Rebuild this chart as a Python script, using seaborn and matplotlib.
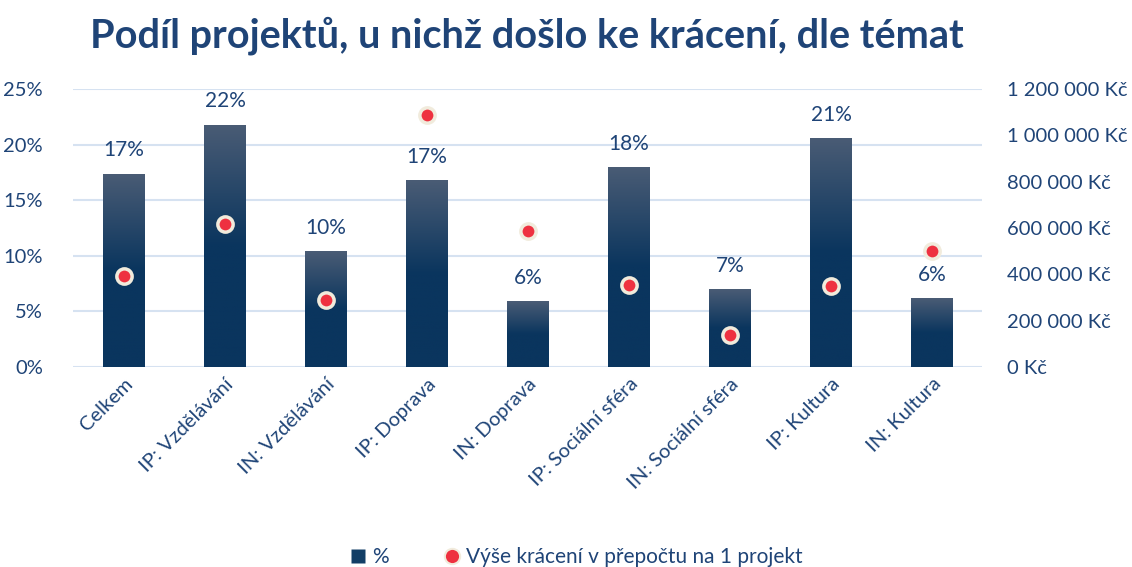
import numpy as np
import pandas as pd
import matplotlib
matplotlib.use("Agg")
import matplotlib.pyplot as plt
import seaborn as sns
from matplotlib.colors import LinearSegmentedColormap
from matplotlib.ticker import FuncFormatter, MultipleLocator
from matplotlib.lines import Line2D

categories = ["Celkem", "IP: Vzdělávání", "IN: Vzdělávání", "IP: Doprava", "IN: Doprava",
              "IP: Sociální sféra", "IN: Sociální sféra", "IP: Kultura", "IN: Kultura"]
share_pct = [17.4, 21.8, 10.4, 16.8, 5.9, 18.0, 7.0, 20.6, 6.2]
cut_czk = [393000, 617000, 289000, 1088000, 587000, 354000, 138000, 350000, 501000]

title = "Podíl projektů, u nichž došlo ke krácení, dle témat"
legend_bar = "%"
legend_dot = "Výše krácení v přepočtu na 1 projekt"

TXT = "#1F4477"
sns.set_theme(style="white")
plt.rcParams["font.family"] = ["Lato", "DejaVu Sans"]

df = pd.DataFrame({"cat": categories, "pct": share_pct, "czk": cut_czk})

fig = plt.figure(figsize=(11.32, 5.67), dpi=100)
ax = fig.add_axes([0.0649, 0.3527, 0.803, 0.4903])

sns.barplot(data=df, x="cat", y="pct", ax=ax, color="#0B3760", width=0.41, saturation=1)
ax.set_xlim(-0.5, len(categories) - 0.5)
ax.set_ylim(0, 25)

cmap = LinearSegmentedColormap.from_list("g", ["#0A355E", "#0A355E", "#4A5C75"])
grad = np.linspace(0, 1, 256).reshape(-1, 1)
for p in ax.patches:
    x0, y0 = p.get_x(), p.get_y()
    w, h = p.get_width(), p.get_height()
    im = ax.imshow(grad, cmap=cmap, aspect="auto", origin="lower",
                   extent=[x0, x0 + w, y0, y0 + h], zorder=2)
    im.set_clip_path(p)
    p.set_facecolor("none")
    p.set_edgecolor("none")
ax.set_xlim(-0.5, len(categories) - 0.5)
ax.set_ylim(0, 25)

for i, v in enumerate(share_pct):
    ax.text(i, v + 2.1, f"{round(v):.0f}%", ha="center", va="center",
            fontsize=15, color=TXT, zorder=5)

ax.yaxis.set_major_locator(MultipleLocator(5))
ax.yaxis.set_major_formatter(FuncFormatter(lambda v, _: f"{v:.0f}%"))
ax.grid(axis="y", color="#D6E2F1", linewidth=1.5, zorder=0)
ax.set_axisbelow(True)
for s in ax.spines.values():
    s.set_visible(False)
ax.set_xlabel("")
ax.set_ylabel("")
ax.tick_params(axis="y", labelsize=14.5, labelcolor=TXT, length=0, pad=22)
ax.tick_params(axis="x", labelsize=14.5, labelcolor=TXT, length=0, pad=6)
plt.setp(ax.get_xticklabels(), rotation=45, ha="right", rotation_mode="anchor")

ax2 = ax.twinx()
sns.stripplot(data=df, x="cat", y="czk", ax=ax2, jitter=False, color="#EE3140",
              size=11, linewidth=2.5, edgecolor="#F1EBDC", zorder=6)
ax2.set_xlim(-0.5, len(categories) - 0.5)
ax2.set_ylim(0, 1200000)
ax2.yaxis.set_major_locator(MultipleLocator(200000))
ax2.yaxis.set_major_formatter(FuncFormatter(
    lambda v, _: f"{int(v):,}".replace(",", " ") + " Kč"))
for s in ax2.spines.values():
    s.set_visible(False)
ax2.set_ylabel("")
ax2.set_xlabel("")
ax2.tick_params(axis="y", labelsize=14.5, labelcolor=TXT, length=0, pad=18)
ax2.grid(False)

fig.text(0.465, 0.937, title, ha="center", va="center", fontsize=28.5,
         fontweight="bold", color=TXT)

handles = [
    Line2D([0], [0], marker="s", color="none", markerfacecolor="#123E66",
           markeredgecolor="none", markersize=10, label=legend_bar),
    Line2D([0], [0], marker="o", color="none", markerfacecolor="#EE3140",
           markeredgecolor="#F1EBDC", markeredgewidth=1.5, markersize=11, label=legend_dot),
]
leg = fig.legend(handles=handles, loc="center", bbox_to_anchor=(0.508, 0.018), ncol=2,
                 frameon=False, fontsize=15, handletextpad=0.2, columnspacing=2.5,
                 handlelength=1.0)
for t in leg.get_texts():
    t.set_color(TXT)

fig.savefig("out.png", dpi=100)
